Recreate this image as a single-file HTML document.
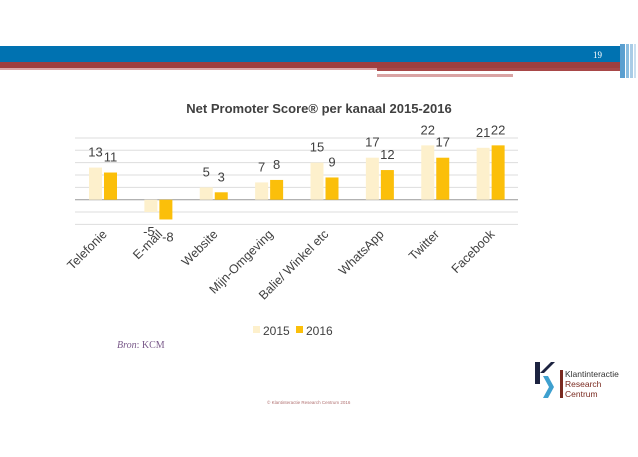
<!DOCTYPE html>
<html><head><meta charset="utf-8"><style>
body{margin:0;width:638px;height:452px;background:#fff;overflow:hidden;font-family:"Liberation Sans",sans-serif}
</style></head><body>
<svg width="638" height="452" xmlns="http://www.w3.org/2000/svg">
<g>
<rect x="0" y="46" width="620" height="16" fill="#0072b1"/>
<rect x="0" y="62" width="620" height="6" fill="#9e3f3f"/>
<rect x="0" y="68" width="377" height="2" fill="#dba8a8"/>
<rect x="377" y="68" width="243" height="3" fill="#a84848"/>
<rect x="377" y="72" width="213" height="1.5" fill="#fff"/>
<rect x="377" y="74" width="136" height="3" fill="#d9a3a3"/>
<rect x="620" y="44" width="5" height="34" fill="#5a9fd0"/>
<rect x="626" y="44" width="3" height="34" fill="#8abde0"/>
<rect x="630" y="44" width="3" height="34" fill="#a9cce6"/>
<rect x="634" y="44" width="2" height="34" fill="#c9dff0"/>
<text x="593" y="58" font-family="Liberation Serif" font-size="9" fill="#fff">19</text>
</g>
<text x="319" y="113" text-anchor="middle" font-size="13" font-weight="bold" fill="#404040">Net Promoter Score® per kanaal 2015-2016</text>
<g id="grid"></g><g id="bars"></g><g id="labels"></g>
<g>
<rect x="253" y="326" width="7" height="7" fill="#fdf0cc"/>
<text x="263" y="335" font-size="12" fill="#404040">2015</text>
<rect x="296" y="326" width="7" height="7" fill="#fbbf0a"/>
<text x="306" y="335" font-size="12" fill="#404040">2016</text>
</g>
<text x="117" y="348" font-family="Liberation Serif" font-size="10" fill="#7a5a8a"><tspan font-style="italic">Bron</tspan>: KCM</text>
<text x="267" y="404" font-size="4.5" fill="#b07070">© Klantinteractie Research Centrum 2016</text>
<g>
<rect x="535" y="362" width="5" height="22" fill="#1c2340"/>
<polygon points="540,373 551,362 555,362 544,373" fill="#1c2340"/>
<polygon points="543,376 548,376 554,387 548,398 543,398 549,387" fill="#3ea0cf"/>
<rect x="560" y="370" width="3" height="28" fill="#7a2a20"/>
<text x="565" y="377" font-size="8.5" fill="#333">Klantinteractie</text>
<text x="565" y="387" font-size="8.5" fill="#7a2a20">Research</text>
<text x="565" y="397" font-size="8.5" fill="#7a2a20">Centrum</text>
</g>
</svg>
<script>
const categories=["Telefonie","E-mail","Website","Mijn-Omgeving","Balie/ Winkel etc","WhatsApp","Twitter","Facebook"];
const values2015=[13,-5,5,7,15,17,22,21];
const values2016=[11,-8,3,8,9,12,17,22];
const gridTicks=[25,20,15,10,5,0,-5,-10];
const NS="http://www.w3.org/2000/svg";
const x0=75,x1=518,y0=199.7,ppu=2.47;
const bw=(x1-x0)/categories.length;
const y=v=>y0-v*ppu;
function mk(t,a,p){const e=document.createElementNS(NS,t);for(const k in a)e.setAttribute(k,a[k]);p.appendChild(e);return e;}
const G=document.getElementById('grid'),B=document.getElementById('bars'),L=document.getElementById('labels');
gridTicks.forEach(t=>{const l=mk('line',{x1:x0,x2:x1,y1:y(t),y2:y(t),stroke:t===0?'#999':'#ddd','stroke-width':1},G);

});
categories.forEach((c,i)=>{const cx=x0+bw*i;
[[values2015[i],'#fdf0cc',14],[values2016[i],'#fbbf0a',29]].forEach(([v,col,off],j)=>{
const r=mk('rect',{x:cx+off,y:Math.min(y(v),y0),width:13,height:Math.abs(v)*ppu,fill:col},B);


const ly=v>=0?y(v)-11:y0+Math.abs(v)*ppu+(j?22:24);
const t=mk('text',{x:cx+off+6.5+(v<0?(j?2:-2):0),y:ly,'text-anchor':'middle','font-size':13,fill:'#404040'},L);
t.textContent=v;

});
const tx=cx+bw/2+5,ty=235;
const t=mk('text',{x:tx,y:ty,'text-anchor':'end','font-size':12.5,fill:'#404040',transform:`rotate(-45 ${tx} ${ty})`},L);
t.textContent=c;

});
</script>
</body></html>
